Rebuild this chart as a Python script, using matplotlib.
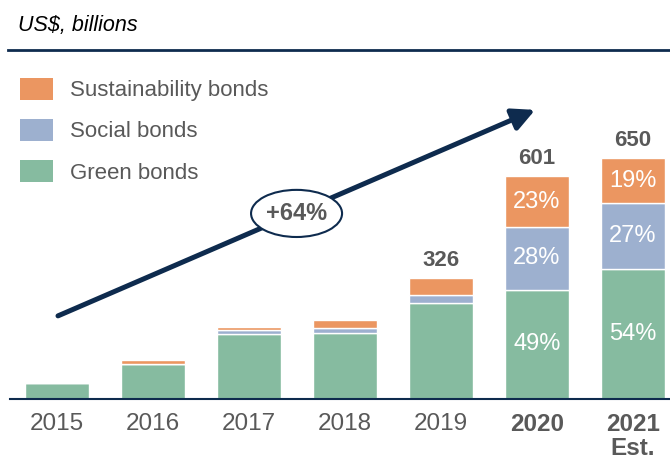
import matplotlib.pyplot as plt
import numpy as np
from matplotlib.lines import Line2D
from matplotlib.patches import Ellipse, Patch

plt.rcParams["font.family"] = ["Liberation Sans", "DejaVu Sans"]

years = ["2015", "2016", "2017", "2018", "2019", "2020", "2021\nEst."]
green = [43, 93, 175, 178, 260, 295, 351]
social = [0, 0, 10, 12, 21, 168, 176]
sustainability = [0, 11, 10, 23, 45, 138, 123]
total_labels = ["", "", "", "", "326", "601", "650"]
green_pct = ["", "", "", "", "", "49%", "54%"]
social_pct = ["", "", "", "", "", "28%", "27%"]
sustainability_pct = ["", "", "", "", "", "23%", "19%"]
growth_label = "+64%"

ORANGE = "#EB9661"
BLUE = "#9DB0CF"
GREEN = "#86BBA0"
NAVY = "#0E2B4E"
GRAY = "#595959"

fig = plt.figure(figsize=(6.7, 4.62), dpi=100)
ax = fig.add_axes([10 / 670, 63 / 462, 660 / 670, 347 / 462])

x = np.arange(len(years))
green = np.array(green)
social = np.array(social)
sustainability = np.array(sustainability)
width = 0.66

ax.bar(x, green, width, color=GREEN, edgecolor="white", linewidth=1)
ax.bar(x, social, width, bottom=green, color=BLUE, edgecolor="white", linewidth=1)
ax.bar(x, sustainability, width, bottom=green + social, color=ORANGE,
       edgecolor="white", linewidth=1)

totals = green + social + sustainability
for xi, t, lab in zip(x, totals, total_labels):
    if lab:
        ax.text(xi, t + 46, lab, ha="center", va="center", fontsize=16,
                fontweight="bold", color=GRAY)

for xi, g, s, u, gp, sp, up in zip(x, green, social, sustainability,
                                   green_pct, social_pct, sustainability_pct):
    for y, lab in [(g / 2, gp), (g + s / 2, sp), (g + s + u / 2, up)]:
        if lab:
            ax.text(xi, y, lab, ha="center", va="center", fontsize=17, color="white")

ax.set_xlim(-0.49, 6.385)
ax.set_ylim(0, 935)
for side in ["left", "right", "top"]:
    ax.spines[side].set_visible(False)
ax.spines["bottom"].set_color(NAVY)
ax.spines["bottom"].set_linewidth(1.5)
ax.set_yticks([])
ax.set_xticks(x, years)
ax.tick_params(axis="x", length=0, pad=10, labelsize=17.5, labelcolor=GRAY)
for lab in ax.get_xticklabels():
    lab.set_linespacing(1.05)
for lab in ax.get_xticklabels()[5:]:
    lab.set_fontweight("bold")

# growth arrow with ellipse badge
ax.annotate("", xy=(4.98, 779), xytext=(0.01, 224),
            arrowprops=dict(arrowstyle="-|>,head_length=0.9,head_width=0.45",
                            color=NAVY, lw=3.6, mutation_scale=15,
                            shrinkA=0, shrinkB=0))
ax.add_patch(Ellipse((2.495, 500), 0.948, 127, facecolor="white",
                     edgecolor=NAVY, linewidth=1.5, zorder=5))
ax.text(2.495, 500, growth_label, ha="center", va="center", fontsize=17,
        fontweight="bold", color=GRAY, zorder=6)

handles = [Patch(facecolor=ORANGE), Patch(facecolor=BLUE), Patch(facecolor=GREEN)]
fig.legend(handles, ["Sustainability bonds", "Social bonds", "Green bonds"],
           loc="upper left", bbox_to_anchor=(20 / 670, 1 - 78 / 462),
           frameon=False, fontsize=16, labelcolor=GRAY,
           handlelength=1.48, handleheight=1.12, handletextpad=0.76,
           labelspacing=0.8, borderpad=0, borderaxespad=0)

fig.text(18 / 670, 1 - 26 / 462, "US$, billions", style="italic",
         fontsize=15.5, va="center", color="black")
fig.add_artist(Line2D([8 / 670, 1], [1 - 50 / 462, 1 - 50 / 462],
                      transform=fig.transFigure, color=NAVY, lw=2))

fig.savefig("out.png", dpi=100)
